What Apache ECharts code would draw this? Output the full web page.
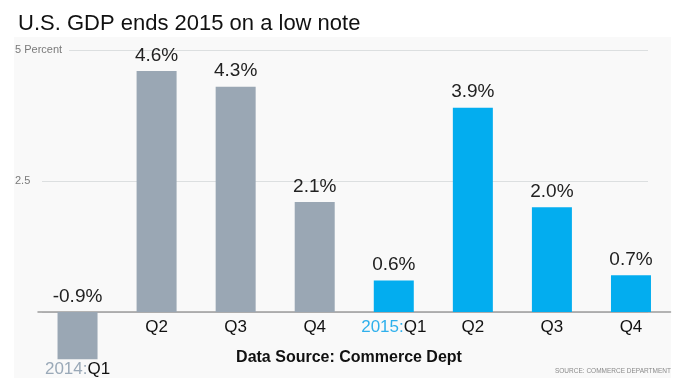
<!DOCTYPE html>
<html>
<head>
<meta charset="utf-8">
<script src="https://cdn.jsdelivr.net/npm/echarts@6/dist/echarts.min.js"></script>
<style>
html,body{margin:0;padding:0;background:#fff;}
#c{width:694px;height:382px;}
</style>
</head>
<body>
<div id="c"></div>
<script>
// ---- data ----
const quarters = ['Q1', 'Q2', 'Q3', 'Q4', 'Q1', 'Q2', 'Q3', 'Q4'];
const years = ['2014', '2014', '2014', '2014', '2015', '2015', '2015', '2015'];
const gdpGrowth = [-0.9, 4.6, 4.3, 2.1, 0.6, 3.9, 2.0, 0.7];
const yTickValues = [2.5, 5];
const yTickLabels = ['2.5', '5 Percent'];

const FONT = "'Liberation Sans', Arial, Helvetica, sans-serif";
const GRAY = '#9aa7b4';
const BLUE = '#03adef';
const GRAY_TXT = '#9aa9b8';
const BLUE_TXT = '#2fb0ec';
const PANEL = '#f9f9f9';

const categories = quarters.map((q, i) => i === 0 || i === 4 ? years[i] + ':' + q : q);

const chart = echarts.init(document.getElementById('c'), null, { renderer: 'canvas' });

const GRID_NO_BOUNDS = { containLabel: false, outerBoundsMode: 'none' };

const option = {
  backgroundColor: '#ffffff',
  animation: false,
  title: {
    text: 'U.S. GDP ends 2015 on a low note',
    left: 13,
    top: 8,
    textStyle: { fontFamily: FONT, fontSize: 22, fontWeight: 'normal', color: '#111' }
  },
  graphic: [
    {
      type: 'rect', z: -10, silent: true,
      shape: { x: 14, y: 37, width: 657, height: 341 },
      style: { fill: PANEL }
    },
    {
      type: 'text', z: 5, silent: true,
      x: 349, y: 358,
      style: {
        text: 'Data Source: Commerce Dept',
        font: 'bold 16px ' + FONT,
        fill: '#111', align: 'center', verticalAlign: 'middle'
      }
    },
    {
      type: 'text', z: 5, silent: true,
      x: 671, y: 371,
      style: {
        text: 'SOURCE: COMMERCE DEPARTMENT',
        font: '6.5px ' + FONT,
        fill: '#8a8a8a', align: 'right', verticalAlign: 'middle'
      }
    }
  ],
  grid: [
    Object.assign({ left: 38, right: 23.5, top: 50, bottom: 17.6 }, GRID_NO_BOUNDS),
    Object.assign({ left: 42, right: 46, top: 50, bottom: 70 }, GRID_NO_BOUNDS),
    Object.assign({ left: 38, right: 23.5, top: 50, bottom: 70 }, GRID_NO_BOUNDS)
  ],
  xAxis: [
    {
      type: 'category',
      gridIndex: 0,
      data: categories,
      axisLine: { onZero: true, lineStyle: { color: '#9c9c9c', width: 1.5 } },
      axisTick: { show: false },
      splitLine: { show: false },
      axisLabel: { show: false }
    },
    { type: 'value', gridIndex: 1, show: false, min: 0, max: 1 },
    {
      type: 'category',
      gridIndex: 2,
      data: categories,
      axisLine: { show: false },
      axisTick: { show: false },
      splitLine: { show: false },
      axisLabel: {
        margin: 5,
        fontFamily: FONT,
        fontSize: 17,
        color: '#111',
        interval: 0,
        formatter: function (v, i) {
          const parts = v.split(':');
          if (parts.length === 2) {
            const tag = parts[0] === '2014' ? 'g' : 'b';
            const pre = i === 0 ? '{s|\u00a0}\n' : '';
            return pre + '{' + tag + '|' + parts[0] + ':}{k|' + parts[1] + '}';
          }
          return '{k|' + v + '}';
        },
        rich: {
          s: { fontSize: 2, lineHeight: 42 },
          g: { color: GRAY_TXT, fontSize: 17, fontFamily: FONT, lineHeight: 20 },
          b: { color: BLUE_TXT, fontSize: 17, fontFamily: FONT, lineHeight: 20 },
          k: { color: '#111', fontSize: 17, fontFamily: FONT, lineHeight: 20 }
        }
      }
    }
  ],
  yAxis: [
    {
      type: 'value', gridIndex: 0, min: -1, max: 5,
      show: false, splitLine: { show: false }
    },
    {
      type: 'value', gridIndex: 1, min: 0, max: 5, interval: 2.5,
      axisLine: { show: false },
      axisTick: { show: false },
      splitLine: {
        lineStyle: { color: '#dcdfe0', width: 1 }
      },
      axisLabel: {
        align: 'left',
        margin: 27,
        fontFamily: FONT,
        fontSize: 11,
        color: '#7a7a7a',
        backgroundColor: PANEL,
        padding: [3, 7, 3, 0],
        formatter: function (v) {
          const idx = yTickValues.indexOf(v);
          return idx >= 0 ? yTickLabels[idx] : '';
        }
      }
    },
    {
      type: 'value', gridIndex: 2, min: 0, max: 5,
      show: false, splitLine: { show: false }
    }
  ],
  series: [
    {
      type: 'bar',
      xAxisIndex: 0,
      yAxisIndex: 0,
      barWidth: 40,
      z: 3,
      data: gdpGrowth.map((v, i) => ({
        value: v,
        itemStyle: { color: years[i] === '2014' ? GRAY : BLUE }
      })),
      label: {
        show: true,
        position: 'top',
        distance: 6,
        fontFamily: FONT,
        fontSize: 19,
        color: '#222',
        formatter: p => p.value.toFixed(1) + '%'
      }
    }
  ]
};

chart.setOption(option);
</script>
</body>
</html>
